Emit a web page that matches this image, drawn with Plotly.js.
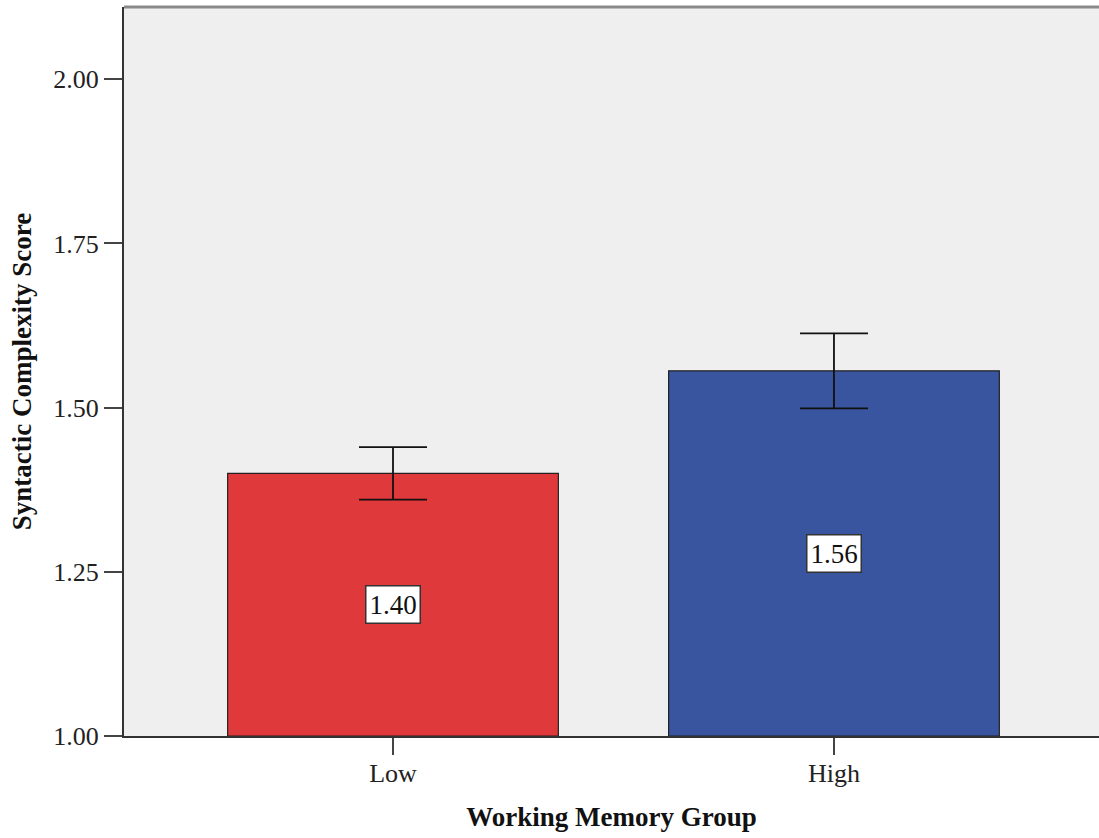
<!DOCTYPE html>
<html>
<head>
<meta charset="utf-8">
<script src="https://cdn.plot.ly/plotly-3.0.1.min.js"></script>
<style>html,body{margin:0;padding:0;background:#fff;}#chart{width:1099px;height:838px;}</style>
</head>
<body>
<div id="chart"></div>
<script>
const categories = ["Low", "High"];
const means = [1.40, 1.556];
const errors = [0.04, 0.057];
const labels = ["1.40", "1.56"];
const barColors = ["#e0393b", "#3a55a0"];
const yTicks = [1.00, 1.25, 1.50, 1.75, 2.00];
const yTickText = ["1.00", "1.25", "1.50", "1.75", "2.00"];
const yBase = 1.0;

const serif = "Liberation Serif, Times New Roman, serif";

const trace = {
  type: "bar",
  x: categories,
  y: means.map(v => v - yBase),
  base: yBase,
  width: 0.75,
  marker: {color: barColors, line: {color: "#222", width: 1.2}},
  error_y: {type: "data", array: errors, visible: true, color: "#111", thickness: 1.8, width: 34},
  hoverinfo: "none"
};

const annotations = categories.map((c, i) => ({
  x: c, y: (yBase + means[i]) / 2, xref: "x", yref: "y",
  text: labels[i], showarrow: false,
  font: {family: serif, size: 27, color: "#111"},
  bgcolor: "#ffffff", bordercolor: "#333", borderwidth: 1.5, borderpad: 3
}));

const layout = {
  width: 1099, height: 838,
  margin: {l: 124, r: 0, t: 7, b: 102},
  paper_bgcolor: "#ffffff",
  plot_bgcolor: "#efefef",
  showlegend: false,
  bargap: 0,
  xaxis: {
    type: "category",
    range: [-0.61, 1.601],
    showline: true, linecolor: "#333", linewidth: 2,
    ticks: "outside", ticklen: 17, tickwidth: 2, tickcolor: "#444",
    ticklabelstandoff: -4,
    showgrid: false, zeroline: false,
    tickfont: {family: serif, size: 26, color: "#222"},
    title: {text: "Working Memory Group", font: {family: serif, size: 27, color: "#111", weight: "bold"}, standoff: 20}
  },
  yaxis: {
    range: [1.0, 2.11],
    tickvals: yTicks, ticktext: yTickText,
    showline: true, linecolor: "#333", linewidth: 2,
    ticks: "outside", ticklen: 18, tickwidth: 2, tickcolor: "#444",
    showgrid: false, zeroline: false,
    tickfont: {family: serif, size: 26, color: "#222"},
    title: {text: "Syntactic Complexity Score", font: {family: serif, size: 27, color: "#111", weight: "bold"}, standoff: 14}
  },
  shapes: [{type: "line", xref: "paper", yref: "paper", x0: 0, x1: 1, y0: 1, y1: 1, line: {color: "#8a8a8a", width: 3}}],
  annotations: annotations
};

Plotly.newPlot("chart", [trace], layout, {displayModeBar: false, staticPlot: true});
</script>
</body>
</html>
